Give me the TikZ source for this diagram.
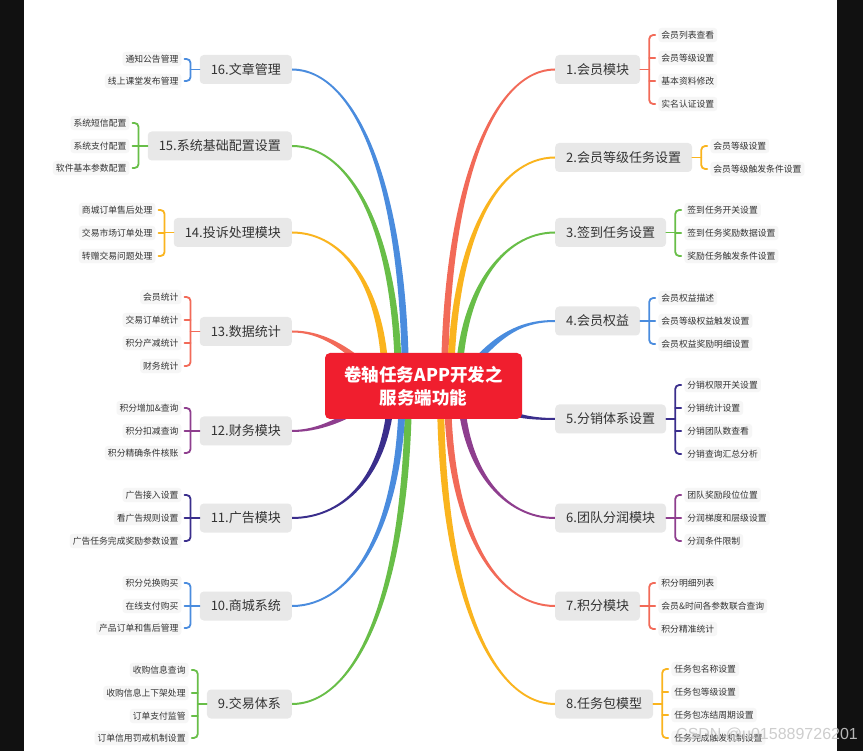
\documentclass[tikz,border=0pt]{standalone}
\usepackage{fontspec}
\setmainfont{Noto Sans CJK SC}
\newfontfamily\wmfont{Liberation Sans}
\usetikzlibrary{calc}
\pgfdeclarelayer{back}
\pgfdeclarelayer{bg}
\pgfsetlayers{back,bg,main}
\definecolor{cCoral}{RGB}{242,106,88}
\definecolor{cAmber}{RGB}{250,180,30}
\definecolor{cGreen}{RGB}{104,190,72}
\definecolor{cBlue}{RGB}{74,140,222}
\definecolor{cIndigo}{RGB}{58,46,140}
\definecolor{cPurple}{RGB}{142,62,142}
\definecolor{cRed}{RGB}{240,30,46}
\definecolor{boxgray}{RGB}{232,232,232}
\definecolor{itembg}{RGB}{246,246,246}
\definecolor{txt}{RGB}{51,51,51}
\definecolor{barblack}{RGB}{17,17,17}
\definecolor{wmgray}{RGB}{200,200,200}

% tapered connector: colour, start, control 1, control 2, end anchor, start half-offset
\newcommand\limb[6]{%
  \fill[#1] ($#2+#6$) .. controls ($#3+#6$) and ($#4+(0,1)$) .. ($(#5)+(0,1)$)
    -- ($(#5)+(0,-1)$) .. controls ($#4+(0,-1)$) and ($#3-#6$) .. ($#2-#6$) -- cycle;}

% sub items on the right: node, colour, count, list y/text
\newcommand\subsR[4]{%
  \path (#1.east) ++(9,0) coordinate (#1k) ++(6,0) coordinate (#1s) ++(3,0) coordinate (#1m);
  \foreach \yy/\txt [count=\i] in {#4} {
    \coordinate (yref) at (0,\yy);
    \node[itemR] (#1-\i) at (#1m |- yref) {\txt};
  }
  \draw[brk,#2] (#1.east) -- (#1k);
  \draw[brk,#2,rounded corners=4] (#1s |- #1-1) -- (#1k |- #1-1) -- (#1k |- #1-#3) -- (#1s |- #1-#3);
  \ifnum#3>2
    \pgfmathtruncatemacro\penult{#3-1}
    \foreach \j in {2,...,\penult} { \draw[brk,#2] (#1k |- #1-\j) -- (#1s |- #1-\j); }
  \fi
}
\newcommand\subsL[4]{%
  \path (#1.west) ++(-9,0) coordinate (#1k) ++(-6,0) coordinate (#1s) ++(-3,0) coordinate (#1m);
  \foreach \yy/\txt [count=\i] in {#4} {
    \coordinate (yref) at (0,\yy);
    \node[itemL] (#1-\i) at (#1m |- yref) {\txt};
  }
  \draw[brk,#2] (#1.west) -- (#1k);
  \draw[brk,#2,rounded corners=4] (#1s |- #1-1) -- (#1k |- #1-1) -- (#1k |- #1-#3) -- (#1s |- #1-#3);
  \ifnum#3>2
    \pgfmathtruncatemacro\penult{#3-1}
    \foreach \j in {2,...,\penult} { \draw[brk,#2] (#1k |- #1-\j) -- (#1s |- #1-\j); }
  \fi
}

\begin{document}
\begin{tikzpicture}[x=1pt,y=-1pt,
  centre/.style={fill=cRed, rounded corners=5, minimum width=197, minimum height=66,
    text=white, align=center, inner sep=0, font=\bfseries\fontsize{17.5}{23}\selectfont},
  branch/.style={fill=boxgray, rounded corners=4, inner xsep=11, inner ysep=0,
    minimum height=29, text=txt, font=\fontsize{13}{15}\selectfont},
  itemR/.style={anchor=west, fill=itembg, rounded corners=3, inner xsep=3, inner ysep=3,
    text=txt, font=\fontsize{8.8}{10}\selectfont},
  itemL/.style={itemR, anchor=east},
  brk/.style={line width=1.8, line cap=round},
  wm/.style={text=wmgray, opacity=0.9, font=\wmfont\fontsize{16}{18}\selectfont, inner sep=0}
]
\useasboundingbox (0,0) rectangle (863,751);
\begin{pgfonlayer}{back}
\fill[white] (0,0) rectangle (863,751);
\fill[barblack] (0,0) rectangle (24,751);
\fill[barblack] (837,0) rectangle (863,751);
\end{pgfonlayer}

\node[centre] (c) at (423.5,386) {卷轴任务APP开发之\\服务端功能};

\node[branch, anchor=west] (b1) at (555,69.5) {1.会员模块};
\node[branch, anchor=west] (b2) at (555,157.5) {2.会员等级任务设置};
\node[branch, anchor=west] (b3) at (555,232.5) {3.签到任务设置};
\node[branch, anchor=west] (b4) at (555,321) {4.会员权益};
\node[branch, anchor=west] (b5) at (555,419) {5.分销体系设置};
\node[branch, anchor=west] (b6) at (555,518) {6.团队分润模块};
\node[branch, anchor=west] (b7) at (555,606) {7.积分模块};
\node[branch, anchor=west] (b8) at (555,704) {8.任务包模型};
\node[branch, anchor=east] (b9) at (292,704) {9.交易体系};
\node[branch, anchor=east] (b10) at (292,606) {10.商城系统};
\node[branch, anchor=east] (b11) at (292,518) {11.广告模块};
\node[branch, anchor=east] (b12) at (292,431) {12.财务模块};
\node[branch, anchor=east] (b13) at (292,331.5) {13.数据统计};
\node[branch, anchor=east] (b14) at (292,232.5) {14.投诉处理模块};
\node[branch, anchor=east] (b15) at (292,146) {15.系统基础配置设置};
\node[branch, anchor=east] (b16) at (292,69.5) {16.文章管理};

\subsR{b1}{cCoral}{4}{35/会员列表查看,58/会员等级设置,81/基本资料修改,104/实名认证设置}
\subsR{b2}{cAmber}{2}{146/会员等级设置,169/会员等级触发条件设置}
\subsR{b3}{cGreen}{3}{210/签到任务开关设置,233/签到任务奖励数据设置,256/奖励任务触发条件设置}
\subsR{b4}{cBlue}{3}{298/会员权益描述,321/会员等级权益触发设置,344/会员权益奖励明细设置}
\subsR{b5}{cIndigo}{4}{385/分销权限开关设置,408/分销统计设置,431/分销团队数查看,454/分销查询汇总分析}
\subsR{b6}{cPurple}{3}{495/团队奖励段位位置,518/分润梯度和层级设置,541/分润条件限制}
\subsR{b7}{cCoral}{3}{583/积分明细列表,606/会员\&时间各参数联合查询,629/积分精准统计}
\subsR{b8}{cAmber}{4}{669/任务包名称设置,692/任务包等级设置,715/任务包冻结周期设置,738/任务完成触发机制设置}

\subsL{b16}{cBlue}{2}{59/通知公告管理,81/线上课堂发布管理}
\subsL{b15}{cGreen}{3}{123/系统短信配置,146/系统支付配置,168/软件基本参数配置}
\subsL{b14}{cAmber}{3}{210/商城订单售后处理,233/交易市场订单处理,256/转赠交易问题处理}
\subsL{b13}{cCoral}{4}{297/会员统计,320/交易订单统计,343/积分产减统计,366/财务统计}
\subsL{b12}{cPurple}{3}{408/积分增加\&查询,431/积分扣减查询,453/积分精确条件核账}
\subsL{b11}{cIndigo}{3}{495/广告接入设置,518/看广告规则设置,541/广告任务完成奖励参数设置}
\subsL{b10}{cBlue}{3}{583/积分兑换购买,606/在线支付购买,628/产品订单和售后管理}
\subsL{b9}{cGreen}{4}{670/收购信息查询,693/收购信息上下架处理,716/订单支付监管,738/订单信用罚戒机制设置}

\begin{pgfonlayer}{bg}
\limb{cCoral}{(c)+(21,0)}{(445,180)}{(495,69.5)}{b1.west}{(3.5,0)}
\limb{cAmber}{(c)+(27,0)}{(452,237)}{(498,157.5)}{b2.west}{(3.5,0)}
\limb{cGreen}{(c)+(35,0)}{(460,290)}{(503,232.5)}{b3.west}{(3.5,0)}
\limb{cBlue}{(c)+(37,-6)}{(495,335)}{(520,321)}{b4.west}{(2.8,2.1)}
\limb{cIndigo}{(c)+(47,9)}{(505,415)}{(525,419)}{b5.west}{(-1.75,3)}
\limb{cPurple}{(c)+(37,0)}{(462,470)}{(505,518)}{b6.west}{(-3.5,0)}
\limb{cCoral}{(c)+(24,0)}{(447,529)}{(496,606)}{b7.west}{(-3.5,0)}
\limb{cAmber}{(c)+(17,0)}{(440,593)}{(492,704)}{b8.west}{(-3.5,0)}
\limb{cGreen}{(c)+(-15,0)}{(408,593)}{(356,704)}{b9.east}{(3.5,0)}
\limb{cBlue}{(c)+(-21,0)}{(402,529)}{(352,606)}{b10.east}{(3.5,0)}
\limb{cIndigo}{(c)+(-32,0)}{(390,472)}{(346,518)}{b11.east}{(3.5,0)}
\limb{cPurple}{(c)+(-43,9)}{(345,420)}{(318,431)}{b12.east}{(2,2.8)}
\limb{cCoral}{(c)+(-43,-6)}{(345,345)}{(320,331.5)}{b13.east}{(-2.7,2.3)}
\limb{cAmber}{(c)+(-38,0)}{(385,286)}{(343,232.5)}{b14.east}{(-3.5,0)}
\limb{cGreen}{(c)+(-25,0)}{(398,230)}{(350,146)}{b15.east}{(-3.5,0)}
\limb{cBlue}{(c)+(-18,0)}{(405,180)}{(354,69.5)}{b16.east}{(-3.5,0)}
\end{pgfonlayer}

\node[wm, anchor=west] (wm) at (676,735) {CSDN @u015889726201};
\end{tikzpicture}
\end{document}
